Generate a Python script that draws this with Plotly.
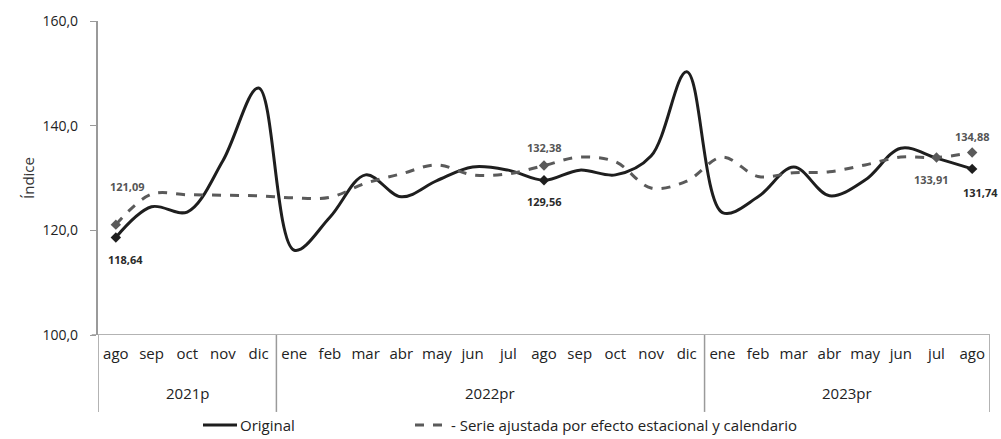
import plotly.graph_objects as go

months = ["ago","sep","oct","nov","dic",
          "ene","feb","mar","abr","may","jun","jul","ago","sep","oct","nov","dic",
          "ene","feb","mar","abr","may","jun","jul","ago"]
years = ["2021p", "2022pr", "2023pr"]
year_counts = [5, 12, 8]

original = [118.64, 124.5, 123.5, 133.3, 147.2,
            116.2, 122.5, 130.6, 126.4, 129.5, 132.1, 131.5, 129.56, 131.5, 130.6, 134.2, 150.3,
            123.4, 126.4, 132.1, 126.6, 129.6, 135.7, 133.8, 131.74]
ajustada = [121.09, 126.9, 126.8, 126.7, 126.6,
            126.2, 126.3, 129.0, 130.8, 132.5, 130.6, 130.8, 132.38, 134.0, 133.1, 128.1, 129.4,
            134.0, 130.3, 131.0, 131.2, 132.5, 134.0, 133.91, 134.88]

y_ticks = [100, 120, 140, 160]
y_ticktext = ["100,0", "120,0", "140,0", "160,0"]
legend_names = ["Original", "- Serie ajustada por efecto estacional y calendario"]

FONT = "Open Sans"
C_ORIG = "#1e1e1e"
C_ADJ = "#5a5a5a"
TXT = "#222222"
x = list(range(len(months)))

fig = go.Figure()
fig.add_trace(go.Scatter(
    x=x, y=original, mode="lines", name=legend_names[0], showlegend=False,
    line=dict(color=C_ORIG, width=3, shape="spline", smoothing=1.0),
))
fig.add_trace(go.Scatter(
    x=x, y=ajustada, mode="lines", name=legend_names[1], showlegend=False,
    line=dict(color=C_ADJ, width=3, dash="dash", shape="spline", smoothing=1.0),
))

orig_idx = [0, 12, 24]
adj_idx = [0, 12, 23, 24]
fig.add_trace(go.Scatter(
    x=orig_idx, y=[original[i] for i in orig_idx], mode="markers", showlegend=False,
    marker=dict(symbol="diamond", size=8, color=C_ORIG), cliponaxis=False,
))
fig.add_trace(go.Scatter(
    x=adj_idx, y=[ajustada[i] for i in adj_idx], mode="markers", showlegend=False,
    marker=dict(symbol="diamond", size=8, color=C_ADJ), cliponaxis=False,
))

def fmt(v):
    return f"{v:.2f}".replace(".", ",")

ann = []
for i, ys, dx in [(0, -22, 10), (12, -21, 0), (24, -24, 8)]:
    ann.append(dict(x=i, y=original[i], text=f"<b>{fmt(original[i])}</b>", showarrow=False,
                    yshift=ys, xshift=dx, font=dict(family=FONT, size=11, color="#2a2a2a")))
for i, ys, dx in [(0, 38, 12), (12, 18, 0), (23, -22, -5), (24, 16, 0)]:
    ann.append(dict(x=i, y=ajustada[i], text=f"<b>{fmt(ajustada[i])}</b>", showarrow=False,
                    yshift=ys, xshift=dx, font=dict(family=FONT, size=11, color="#555555")))

shapes = []
start = -0.5
for yname, cnt in zip(years, year_counts):
    center = start + cnt / 2
    ann.append(dict(x=center, y=-0.185, xref="x", yref="paper", yanchor="middle", text=yname,
                    showarrow=False, font=dict(family=FONT, size=15, color=TXT)))
    shapes.append(dict(type="line", xref="x", yref="paper", x0=start, x1=start, y0=0, y1=-0.245,
                       line=dict(color="#9a9a9a", width=1.5)))
    start += cnt
shapes.append(dict(type="line", xref="x", yref="paper", x0=start, x1=start, y0=0, y1=-0.245,
                   line=dict(color="#9a9a9a", width=1.5)))

# manual legend (paper coords: plot spans x 98..990 px, y 21..335 px)
def px_x(p):
    return (p - 98) / 892.0

def px_y(p):
    return (335 - p) / 314.0

LY = 425
shapes.append(dict(type="line", xref="paper", yref="paper", x0=px_x(203), x1=px_x(237),
                   y0=px_y(LY), y1=px_y(LY), line=dict(color=C_ORIG, width=3)))
ann.append(dict(x=px_x(238), y=px_y(LY), xref="paper", yref="paper", xanchor="left",
                yanchor="middle", text=legend_names[0], showarrow=False,
                font=dict(family=FONT, size=15, color=TXT)))
shapes.append(dict(type="line", xref="paper", yref="paper", x0=px_x(415), x1=px_x(448),
                   y0=px_y(LY), y1=px_y(LY), line=dict(color=C_ADJ, width=3, dash="dash")))
ann.append(dict(x=px_x(449), y=px_y(LY), xref="paper", yref="paper", xanchor="left",
                yanchor="middle", text=legend_names[1], showarrow=False,
                font=dict(family=FONT, size=15, color=TXT)))

fig.update_layout(
    width=1001, height=439,
    margin=dict(l=98, r=11, t=21, b=104, autoexpand=False),
    paper_bgcolor="white", plot_bgcolor="white",
    font=dict(family=FONT, color=TXT),
    annotations=ann, shapes=shapes, showlegend=False,
)
fig.update_xaxes(
    range=[-0.5, 24.5], tickvals=x, ticktext=months, showgrid=False, zeroline=False,
    showline=False, ticks="", ticklabelstandoff=8,
    tickfont=dict(family=FONT, size=15, color=TXT),
)
fig.update_yaxes(
    range=[100, 160], tickvals=y_ticks, ticktext=[t + "\u2002\u2009" for t in y_ticktext],
    showgrid=False, zeroline=False,
    showline=True, linecolor="#9a9a9a", linewidth=1.5, ticks="outside", ticklen=6,
    tickcolor="#9a9a9a", tickfont=dict(family=FONT, size=14, color=TXT),
    title=dict(text="Índice", font=dict(family=FONT, size=15, color="#333333"), standoff=4),
)
fig.add_shape(type="line", xref="paper", yref="y", x0=-0.007, x1=1, y0=100, y1=100,
              line=dict(color="#9a9a9a", width=1.5))

fig.write_html("out.html", config={"displayModeBar": False},
               post_script="document.body.style.margin='0';")
